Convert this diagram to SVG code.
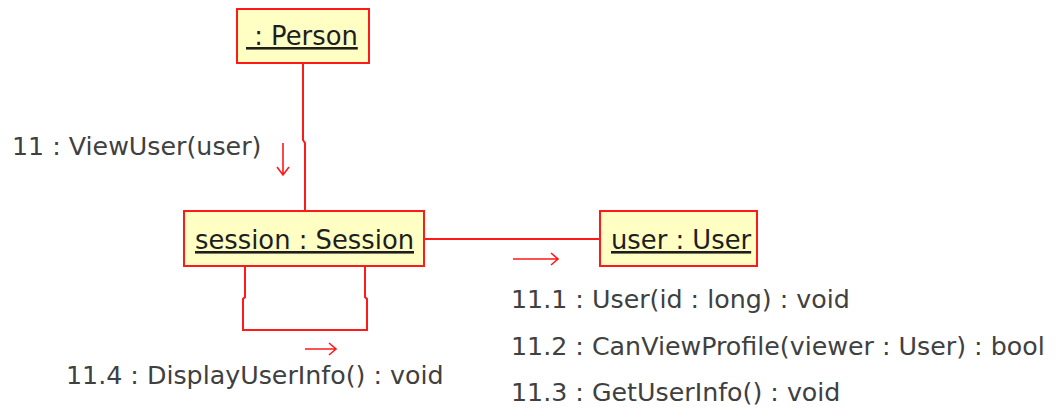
<svg xmlns="http://www.w3.org/2000/svg" width="1064" height="409" viewBox="0 0 1064 409">
<style>
.box{fill:#ffffc4;stroke:#ff1a1a;stroke-width:2}
.name{font-family:"DejaVu Sans",sans-serif;font-size:25.8px;fill:#1e1e1e;text-decoration:underline}
.lbl{font-family:"DejaVu Sans",sans-serif;font-size:25.3px;fill:#404040}
.ln{fill:none;stroke:#ff1a1a;stroke-width:2}
.arr{fill:none;stroke:#ff1a1a;stroke-width:1.6}
</style>
<rect width="1064" height="409" fill="#ffffff"/>
<g id="connectors">
<polyline class="ln" points="303,63 303,140 305,143 305,211"/>
<line class="ln" x1="424" y1="239" x2="600" y2="239"/>
<polyline class="ln" points="245,266 245,297 243,299 243,330 367,330 367,299 365,297 365,266"/>
<g id="msg11">
<path class="arr" d="M283,143 V175 M277,167 L283,175 L289,167"/>
<text class="lbl" x="12" y="155">11 : ViewUser(user)</text>
</g>
<g id="msg11x">
<path class="arr" d="M513,259 H558 M551,253 L558,259 L551,265"/>
<text class="lbl" x="511" y="308">11.1 : User(id : long) : void</text>
<text class="lbl" x="511" y="355">11.2 : CanViewProfile(viewer : User) : bool</text>
<text class="lbl" x="511" y="401">11.3 : GetUserInfo() : void</text>
</g>
<g id="msg114">
<path class="arr" d="M305,349 H336 M329,343 L336,349 L329,355"/>
<text class="lbl" x="66" y="384">11.4 : DisplayUserInfo() : void</text>
</g>
</g>
<g id="person">
<rect class="box" x="237" y="9" width="132" height="54"/>
<text class="name" x="246" y="45" xml:space="preserve"> : Person</text>
</g>
<g id="session">
<rect class="box" x="184" y="211" width="240" height="55"/>
<text class="name" x="195" y="249">session : Session</text>
</g>
<g id="user">
<rect class="box" x="600" y="211" width="157" height="55"/>
<text class="name" x="611" y="249">user : User</text>
</g>
</svg>
